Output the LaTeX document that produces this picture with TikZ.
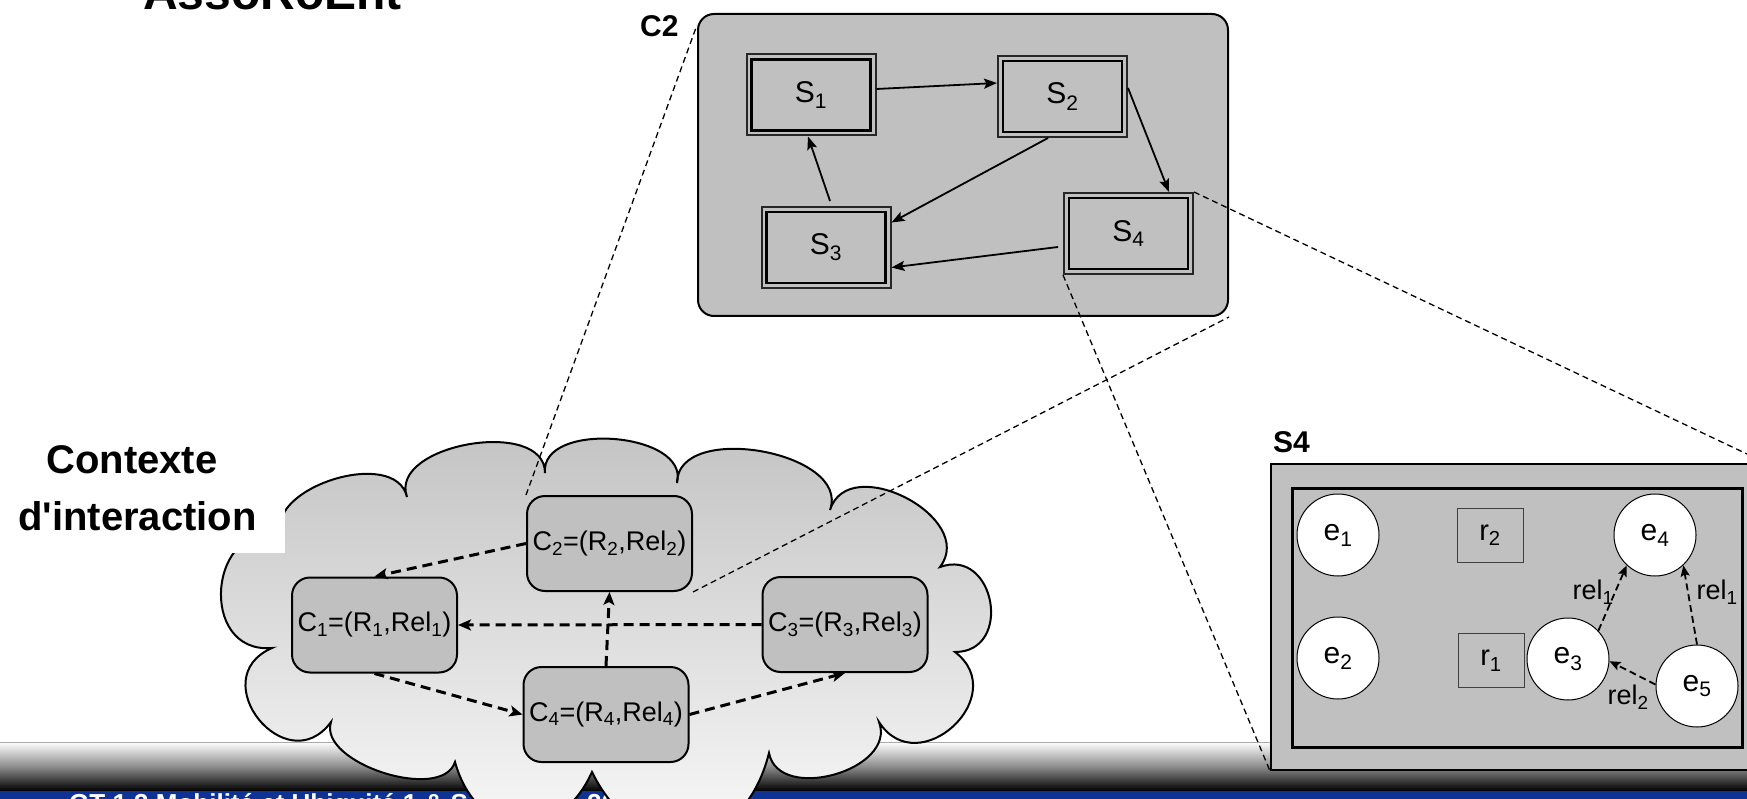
\documentclass[tikz,border=0pt]{standalone}
\usepackage{fontspec}
\setmainfont{Liberation Sans}
\usetikzlibrary{arrows.meta,calc}
\definecolor{boxgray}{RGB}{192,192,192}
\definecolor{footblue}{RGB}{14,51,148}
\definecolor{footmid}{RGB}{140,140,140}
\definecolor{footline}{RGB}{170,170,170}
\definecolor{cloudtop}{RGB}{194,194,194}
\definecolor{cloudbot}{RGB}{252,252,252}
\definecolor{rgray}{RGB}{64,64,64}
\newcommand{\fsz}[1]{\fontsize{#1}{#1}\selectfont}
\begin{document}
\begin{tikzpicture}[x=1pt,y=-1pt,
  sbox/.style={draw=black, line width=2.8pt, minimum width=119pt, minimum height=71pt, inner sep=0pt, outer sep=6pt, font=\fsz{30}},
  souter/.style={draw=black!85, line width=2pt},
  cnode/.style={draw=black, line width=2pt, fill=boxgray, rounded corners=18pt, minimum width=165pt, minimum height=95pt, inner sep=0pt, font=\fsz{27}},
  enode/.style={circle, draw=black, line width=1pt, fill=white, minimum size=82pt, inner sep=0pt, font=\fsz{30}},
  rnode/.style={draw=rgray, line width=1pt, minimum width=66pt, minimum height=54pt, inner sep=0pt, font=\fsz{29}},
  lbl/.style={font=\bfseries\fsz{30}, anchor=base west, inner sep=0pt},
  sarr/.style={line width=1.8pt, -{Stealth[length=13pt,width=10pt,inset=2.5pt]}},
  carr/.style={line width=3pt, dash pattern=on 10pt off 6pt, -{Stealth[length=13pt,width=11pt,inset=3pt]}},
  earr/.style={line width=1.8pt, dash pattern=on 7pt off 4pt, -{Stealth[length=11pt,width=9pt,inset=2pt]}},
  zline/.style={line width=1.3pt, dash pattern=on 6pt off 4pt},
  rel/.style={font=\fsz{27}, inner sep=0pt}
]
\useasboundingbox (0,0) rectangle (1747,799);
\fill[white] (0,0) rectangle (1747,799);
% footer
\shade[top color=white, bottom color=black, middle color=footmid] (0,742) rectangle (1747,791);
\fill[footblue] (0,791) rectangle (1747,800);
\draw[footline, line width=1pt] (0,742) -- (1747,742);
\node[anchor=base west, inner sep=0pt, text=white, font=\bfseries\fsz{26}] (foot1) at (69,812) {GT 1.3 Mobilité et Ubiquité 1 \& Sécurité};
\node[anchor=base west, inner sep=0pt, text=white, font=\bfseries\fsz{26}] (foot2) at (587,812) {2004};
% title
\node[anchor=base west, inner sep=0pt, font=\bfseries\fsz{48}] (title) at (143,10) {AssoRoEnt};
% cloud
\coordinate (k0) at (282,537);
\coordinate (k1) at (407,497);
\coordinate (k2) at (545,473);
\coordinate (k3) at (677,483);
\coordinate (k4) at (830,510);
\coordinate (k5) at (940,567);
\coordinate (k6) at (955,652);
\coordinate (k7) at (879,722);
\coordinate (k8) at (769,753);
\coordinate (k9) at (592,772);
\coordinate (k10) at (455,762);
\coordinate (k11) at (331,722);
\coordinate (k12) at (272,648);
\path[draw=black, line width=2pt, top color=cloudtop, bottom color=cloudbot]
 (k0) .. controls ($(k0)!0.4!95:(k1)$) and ($(k1)!0.4!-95:(k0)$) .. (k1)
 .. controls ($(k1)!0.4!100:(k2)$) and ($(k2)!0.4!-100:(k1)$) .. (k2)
 .. controls ($(k2)!0.4!100:(k3)$) and ($(k3)!0.4!-100:(k2)$) .. (k3)
 .. controls ($(k3)!0.4!100:(k4)$) and ($(k4)!0.4!-100:(k3)$) .. (k4)
 .. controls ($(k4)!0.5!100:(k5)$) and ($(k5)!0.5!-100:(k4)$) .. (k5)
 .. controls ($(k5)!0.68!100:(k6)$) and ($(k6)!0.68!-100:(k5)$) .. (k6)
 .. controls ($(k6)!0.7!100:(k7)$) and ($(k7)!0.7!-100:(k6)$) .. (k7)
 .. controls ($(k7)!0.45!95:(k8)$) and ($(k8)!0.45!-95:(k7)$) .. (k8)
 .. controls (743,857) and (639,868) .. (k9)
 .. controls (558,847) and (477,841) .. (k10)
 .. controls ($(k10)!0.33!90:(k11)$) and ($(k11)!0.33!-90:(k10)$) .. (k11)
 .. controls ($(k11)!0.8!105:(k12)$) and ($(k12)!0.8!-105:(k11)$) .. (k12)
 .. controls ($(k12)!0.68!100:(k0)$) and ($(k0)!0.68!-100:(k12)$) .. (k0) -- cycle;
% context label with white box
\fill[white] (-2,395) rectangle (285,553);
\node[anchor=base, inner sep=0pt, font=\bfseries\fsz{40}] (ctx1) at (132,473) {Contexte};
\node[anchor=base, inner sep=0pt, font=\bfseries\fsz{40}] (ctx2) at (137.5,530) {d\textquotesingle interaction};
% cloud nodes
\node[cnode] (c1) at (374.5,625) {C\textsubscript{1}=(R\textsubscript{1},Rel\textsubscript{1})};
\node[cnode] (c2) at (609.5,543.5) {C\textsubscript{2}=(R\textsubscript{2},Rel\textsubscript{2})};
\node[cnode] (c3) at (845,624.5) {C\textsubscript{3}=(R\textsubscript{3},Rel\textsubscript{3})};
\node[cnode] (c4) at (606,714.5) {C\textsubscript{4}=(R\textsubscript{4},Rel\textsubscript{4})};
\draw[carr] (c2.west) -- (c1.north);
\draw[carr] (c3.west) -- (c1.east);
\draw[carr] (c4.north) -- (c2.south);
\draw[carr] (c1.south) -- (c4.west);
\draw[carr] (c4.east) -- (c3.south);
% C2 detail
\node[draw=black, line width=2pt, fill=boxgray, rounded corners=16pt, minimum width=530pt, minimum height=302pt, inner sep=0pt] (bigc) at (963,165) {};
\node[lbl] (c2lab) at (640,37) {C2};
\node[sbox] (s1) at (811,95) {S\textsubscript{1}};
\node[sbox] (s2) at (1062.5,96.5) {S\textsubscript{2}};
\node[sbox] (s3) at (826,247.5) {S\textsubscript{3}};
\node[sbox] (s4) at (1128.5,233.5) {S\textsubscript{4}};
\foreach \s in {s1,s2,s3,s4}{
  \draw[souter] ($(\s.north west)+(1,1)$) rectangle ($(\s.south east)+(-1,-1)$);
}
\draw[sarr] ($(s1.east)+(0,-6)$) -- ($(s2.west)+(0,-13.5)$);
\draw[sarr] ($(s2.east)+(0,-8.5)$) -- ($(s4.north)+(40.5,0)$);
\draw[sarr] ($(s2.south)+(-14.5,0)$) -- ($(s3.east)+(0,-25)$);
\draw[sarr] ($(s3.north)+(4,-5)$) -- ($(s1.south)+(-3,0)$);
\draw[sarr] ($(s4.west)+(-5,13.5)$) -- ($(s3.east)+(0,20)$);
% S4 detail
\node[draw=black, line width=2pt, fill=boxgray, minimum width=494pt, minimum height=306pt, inner sep=0pt] (bigs) at (1518,617) {};
\node[draw=black, line width=3pt, minimum width=450pt, minimum height=259pt, inner sep=0pt] (inbox) at (1517,617.5) {};
\node[lbl] (s4lab) at (1273,452) {S4};
\node[enode] (e1) at (1338,535) {e\textsubscript{1}};
\node[enode] (e2) at (1338,658) {e\textsubscript{2}};
\node[enode] (e3) at (1568,659) {e\textsubscript{3}};
\node[enode] (e4) at (1655,535) {e\textsubscript{4}};
\node[enode] (e5) at (1697,686) {e\textsubscript{5}};
\node[rnode] (r2) at (1490,535) {r\textsubscript{2}};
\node[rnode] (r1) at (1491,660.5) {r\textsubscript{1}};
\draw[earr] (e3.43) -- (e4.227);
\draw[earr] (e5.90) -- (e4.313);
\draw[earr] (e5.178) -- (e3.-3);
\node[rel] (rl1) at (1593,592) {rel\textsubscript{1}};
\node[rel] (rl1b) at (1717,592) {rel\textsubscript{1}};
\node[rel] (rl2) at (1628,697) {rel\textsubscript{2}};
% zoom lines
\draw[zline] (c2.north west) -- ($(bigc.north west)+(0,12)$);
\draw[zline] (c2.south east) -- (bigc.south east);
\draw[zline] (s4.north east) -- (bigs.north east);
\draw[zline] (s4.south west) -- (bigs.south west);
\end{tikzpicture}
\end{document}
